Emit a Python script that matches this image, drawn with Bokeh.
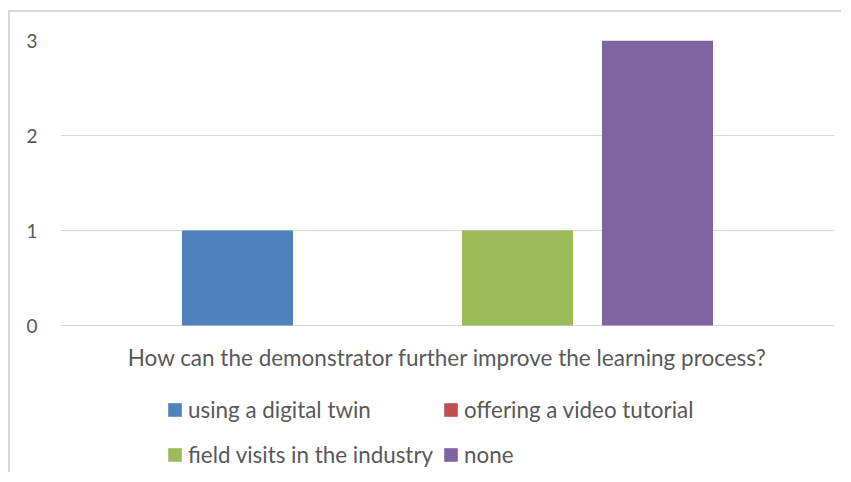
from bokeh.plotting import figure
from bokeh.models import Range1d, FixedTicker, Legend, LegendItem, ColumnDataSource, Label
from bokeh.embed import file_html
from bokeh.resources import INLINE

question = "How can the demonstrator further improve the learning process?"
series = ["using a digital twin", "offering a video tutorial",
          "field visits in the industry", "none"]
values = [1, 0, 1, 3]
colors = ["#4F81BD", "#C0504D", "#9BBB59", "#8064A2"]
y_ticks = [0, 1, 2, 3]

FONT = "Lato"
TXT = "#595959"

p = figure(width=833, height=462, output_backend="svg", toolbar_location=None,
           x_range=Range1d(-1.264, 4.264), y_range=Range1d(-1.568, 3),
           min_border_left=50, min_border_right=9, min_border_top=28,
           min_border_bottom=0)
p.outline_line_color = None
p.styles = {"margin-left": "8px", "margin-top": "10px",
            "border-left": "2px solid #D9D9D9", "border-top": "2px solid #D9D9D9"}

renderers = {}
for i, (name, v, c) in enumerate(zip(series, values, colors)):
    src = ColumnDataSource(dict(x=[i], top=[v]))
    r = p.vbar(x="x", top="top", bottom=0, width=0.793, source=src,
               fill_color=c, line_color=None)
    renderers[name] = r

p.yaxis.ticker = FixedTicker(ticks=y_ticks)
p.yaxis.axis_line_color = None
p.yaxis.major_tick_line_color = None
p.yaxis.minor_tick_line_color = None
p.yaxis.major_label_standoff = 17
p.yaxis.major_label_text_font = FONT
p.yaxis.major_label_text_font_size = "19px"
p.yaxis.major_label_text_color = TXT

p.xaxis.visible = False
p.xgrid.grid_line_color = None
p.ygrid.ticker = FixedTicker(ticks=y_ticks)
p.ygrid.grid_line_color = "#D9D9D9"
p.ygrid.grid_line_width = 1

# category label under the plot area (centered on the plot area)
p.add_layout(Label(x=387, y=117, x_units="screen", y_units="screen",
                   text=question, text_font=FONT, text_font_size="22.5px",
                   text_color=TXT, text_align="center", text_baseline="middle"))

# column-major order: column 1 = blue, green ; column 2 = red, purple
order = [series[0], series[2], series[1], series[3]]
legend = Legend(items=[LegendItem(label=n, renderers=[renderers[n]]) for n in order],
                ncols=2, location=(106, 2), orientation="vertical",
                glyph_width=17, glyph_height=17, label_standoff=5,
                spacing=9, label_height=36, padding=0, margin=0,
                border_line_color=None, background_fill_alpha=0,
                label_text_font=FONT, label_text_font_size="22.4px",
                label_text_color=TXT)
p.add_layout(legend, "center")

open("out.html", "w").write(file_html(p, INLINE))
